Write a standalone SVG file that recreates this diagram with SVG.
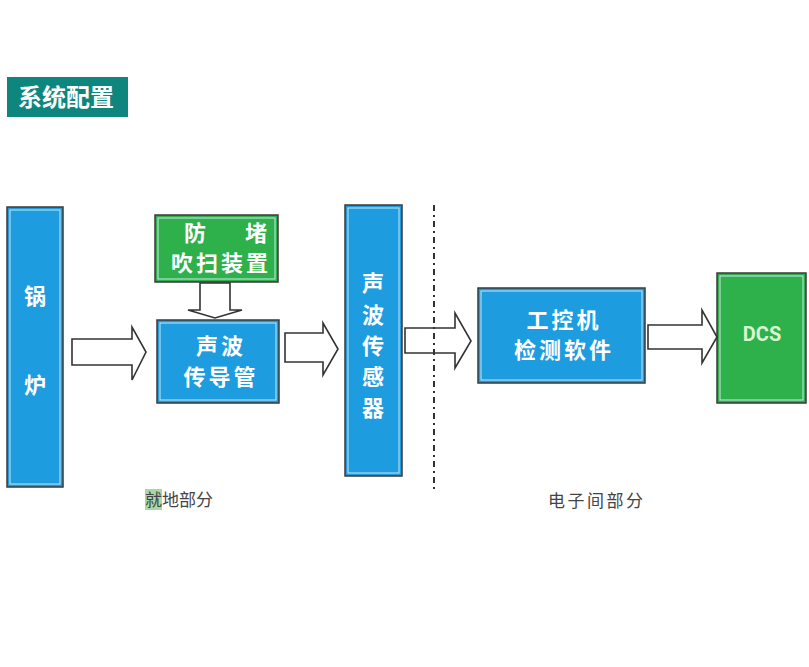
<svg xmlns="http://www.w3.org/2000/svg" width="809" height="667" viewBox="0 0 809 667">
<style>
.box{stroke:#3a3a3a;stroke-width:1.5}
.blue{fill:#1d9ce0}
.green{fill:#2eb04b}
.inner{fill:none;stroke:#cfe6f0;stroke-width:1}
.t{font-family:"Noto Sans CJK SC","Noto Sans",sans-serif;fill:#ffffff;font-size:22px;font-weight:bold;text-anchor:middle}
.sp{letter-spacing:3px}
.arrow{fill:#ffffff;stroke:#333333;stroke-width:1.6;stroke-linejoin:miter}
.lbl{font-family:"Noto Sans CJK SC","Noto Sans",sans-serif;fill:#444444;font-size:17px}
</style>
<rect width="809" height="667" fill="#ffffff"/>
<g id="title">
<rect x="7" y="77" width="121" height="40" fill="#0e857d"/>
<text x="66" y="106" font-family="Noto Sans CJK SC,sans-serif" font-size="24" font-weight="bold" fill="#ffffff" text-anchor="middle">系统配置</text>
</g>
<g id="boiler">
<rect class="box blue" x="7" y="207" width="56" height="280"/>
<rect class="inner" x="10" y="210" width="50" height="274"/>
<text class="t" x="35" y="304">锅</text>
<text class="t" x="35" y="393">炉</text>
</g>
<g id="blowing">
<rect class="box green" x="155" y="215" width="123" height="67"/>
<rect class="inner" x="158" y="218" width="117" height="61" stroke="#d6f0d6"/>
<text class="t" x="195" y="241">防</text>
<text class="t" x="256" y="241">堵</text>
<text class="t sp" x="221" y="271">吹扫装置</text>
</g>
<g id="guide">
<rect class="box blue" x="157" y="320" width="122" height="83"/>
<rect class="inner" x="160" y="323" width="116" height="77"/>
<text class="t sp" x="221" y="354">声波</text>
<text class="t sp" x="221" y="385">传导管</text>
</g>
<g id="sensor">
<rect class="box blue" x="345" y="205" width="57" height="271"/>
<rect class="inner" x="348" y="208" width="51" height="265"/>
<text class="t" x="373" y="291">声</text>
<text class="t" x="373" y="323">波</text>
<text class="t" x="373" y="354">传</text>
<text class="t" x="373" y="385">感</text>
<text class="t" x="373" y="416">器</text>
</g>
<g id="ipc">
<rect class="box blue" x="478" y="288" width="167" height="95"/>
<rect class="inner" x="481" y="291" width="161" height="89"/>
<text class="t sp" x="564" y="328">工控机</text>
<text class="t sp" x="564" y="358">检测软件</text>
</g>
<g id="dcs">
<rect class="box green" x="717" y="273" width="89" height="130"/>
<rect class="inner" x="720" y="276" width="83" height="124" stroke="#d6f0d6"/>
<text x="762" y="341" font-family="Roboto,'Liberation Sans',sans-serif" font-size="20" font-weight="bold" fill="#d9f6d3" text-anchor="middle">DCS</text>
</g>
<g id="connectors">
<polygon class="arrow" points="72,339 132,339 132,327 146,352 132,380 132,365 72,365"/>
<polygon class="arrow" points="200,283 230,283 230,310 242,310 215,318 188,310 200,310"/>
<polygon class="arrow" points="285,333 323,333 323,323 338,349 323,375 323,362 285,362"/>
<polygon class="arrow" points="405,328 455,328 455,313 471,341 455,368 455,353 405,353"/>
<polygon class="arrow" points="648,325 702,325 702,310 717,337 702,363 702,349 648,349"/>
<line x1="434" y1="205" x2="434" y2="493" stroke="#333333" stroke-width="2" stroke-dasharray="6,4,2,4"/>
</g>
<g id="labels">
<rect x="145" y="489" width="17" height="21" fill="#a8d8a8"/>
<text class="lbl" x="145" y="506" font-size="17.5">就地部分</text>
<text class="lbl" x="548" y="507" font-size="19" letter-spacing="2.5">电子间部分</text>
</g>
</svg>
